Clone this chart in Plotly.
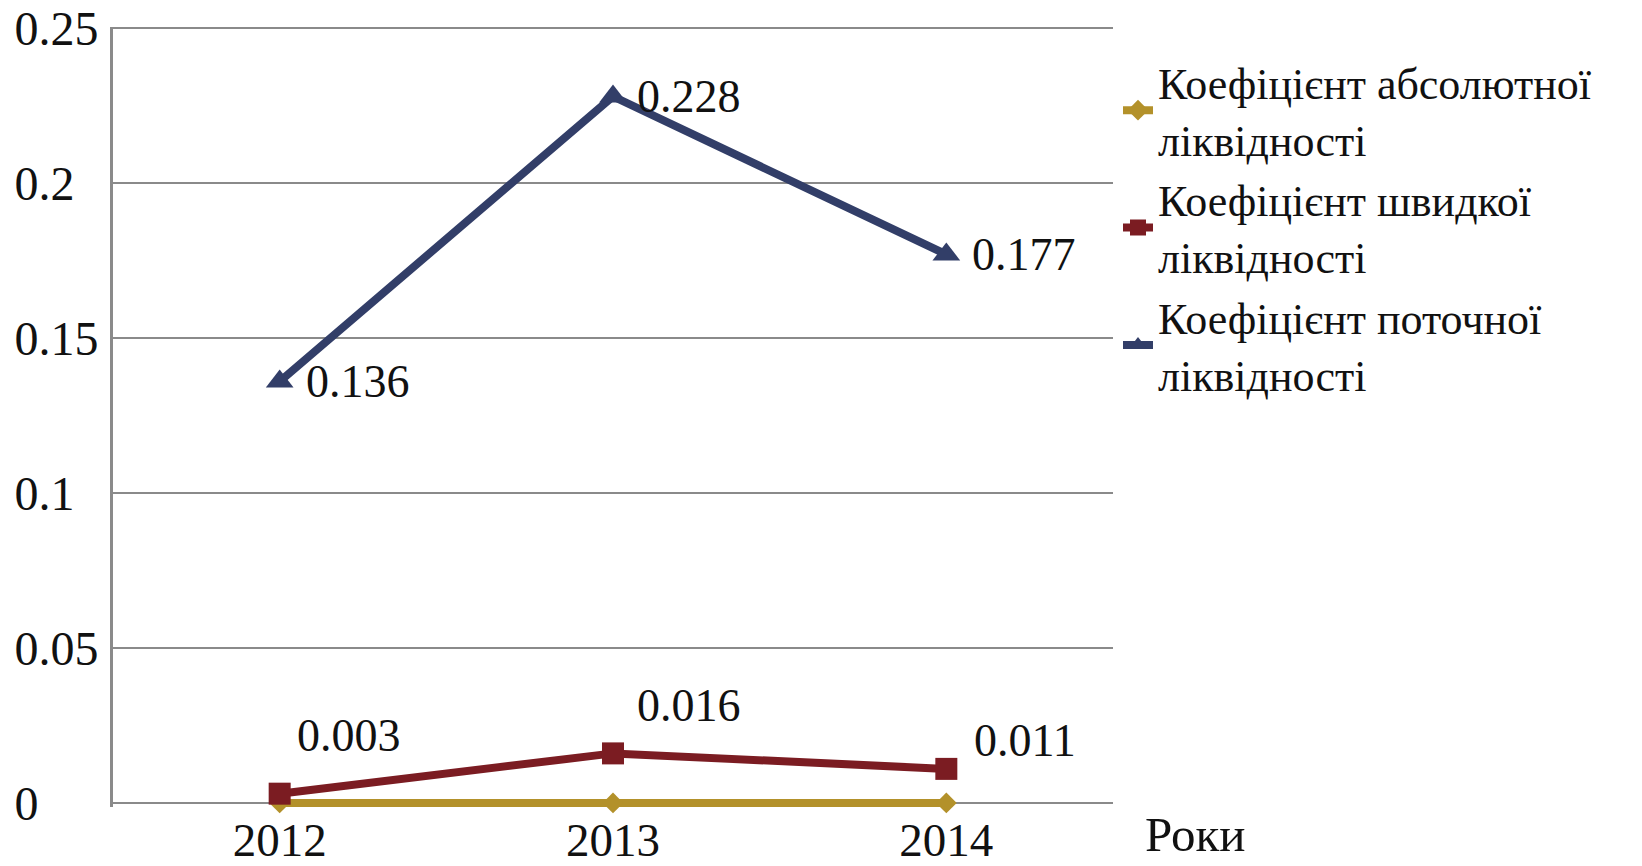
import plotly.graph_objects as go

# ---- data ----
years = ["2012", "2013", "2014"]
abs_liq = [0.0, 0.0, 0.0]
quick_liq = [0.003, 0.016, 0.011]
current_liq = [0.136, 0.228, 0.177]
series_names = [
    "Коефіцієнт абсолютної<br>ліквідності",
    "Коефіцієнт швидкої<br>ліквідності",
    "Коефіцієнт поточної<br>ліквідності",
]
y_tick_vals = [0, 0.05, 0.1, 0.15, 0.2, 0.25]
y_tick_text = ["0", "0.05", "0.1", "0.15", "0.2", "0.25"]
x_axis_title = "Роки"

# ---- styles ----
FONT = "Liberation Serif, Times New Roman, serif"
col_abs = "#B3912A"
col_quick = "#7B1C22"
col_cur = "#323E68"
GRID = "#8a8a8a"
quick_offsets = [(15, 58), (22, 48), (26, 28)]   # (xshift, yshift) px
cur_offsets = [(24, 0), (22, 0), (24, 0)]

def pad_left_align(s):
    # pad with non-breaking spaces so the labels look left-aligned (digit=2 spaces, '.'=1)
    units = sum(1 if c == "." else 2 for c in s)
    return s + "\u00a0" * (7 - units)

fig = go.Figure()
fig.add_trace(go.Scatter(
    x=years, y=abs_liq, name=series_names[0], mode="lines+markers",
    line=dict(color=col_abs, width=8), cliponaxis=False,
    marker=dict(symbol="diamond", size=16, color=col_abs),
))
fig.add_trace(go.Scatter(
    x=years, y=quick_liq, name=series_names[1], mode="lines+markers",
    line=dict(color=col_quick, width=8), cliponaxis=False,
    marker=dict(symbol="square", size=22, color=col_quick),
))
fig.add_trace(go.Scatter(
    x=years, y=current_liq, name=series_names[2], mode="lines+markers",
    line=dict(color=col_cur, width=8), cliponaxis=False,
    marker=dict(symbol="triangle-up", size=24, color=col_cur),
))

annotations = []
for series, offsets in ((quick_liq, quick_offsets), (current_liq, cur_offsets)):
    for i, (yv, (dx, dy)) in enumerate(zip(series, offsets)):
        annotations.append(dict(x=i, y=yv, xref="x", yref="y", text=f"{yv:.3f}",
                                showarrow=False, xanchor="left", yanchor="middle",
                                xshift=dx, yshift=dy,
                                font=dict(family=FONT, size=46, color="#111111")))
annotations.append(dict(x=1.030, y=0, xref="paper", yref="paper", text=x_axis_title,
                        showarrow=False, xanchor="left", yanchor="middle", yshift=-27,
                        font=dict(family=FONT, size=49, color="#111111")))

# page body adds an 8px margin, so the figure margins are reduced by 8px
fig.update_layout(
    width=1642, height=866,
    margin=dict(l=105, r=537, t=19, b=67, autoexpand=False),
    paper_bgcolor="white", plot_bgcolor="white",
    font=dict(family=FONT, size=45, color="#111111"),
    showlegend=True,
    legend=dict(x=1.005, y=0.975, xanchor="left", yanchor="top",
                font=dict(family=FONT, size=44, color="#111111"),
                valign="middle", tracegroupgap=0, itemwidth=30,
                bgcolor="rgba(0,0,0,0)"),
    annotations=annotations,
)
fig.update_xaxes(
    type="category", range=[-0.5, 2.5], showgrid=False,
    showline=False, automargin=False,
    ticks="", tickfont=dict(family=FONT, size=47, color="#111111"),
    ticklabelstandoff=1,
)
fig.update_yaxes(
    range=[-0.0013, 0.2504], tickvals=y_tick_vals,
    ticktext=[pad_left_align(t) for t in y_tick_text],
    showgrid=True, gridcolor=GRID, gridwidth=2,
    showline=True, linecolor=GRID, linewidth=3,
    zeroline=True, zerolinecolor=GRID, zerolinewidth=2,
    ticks="", automargin=False, ticklabeloverflow="allow",
    tickfont=dict(family=FONT, size=48, color="#111111"),
    ticklabelstandoff=2,
)

fig.write_html("out.html")
